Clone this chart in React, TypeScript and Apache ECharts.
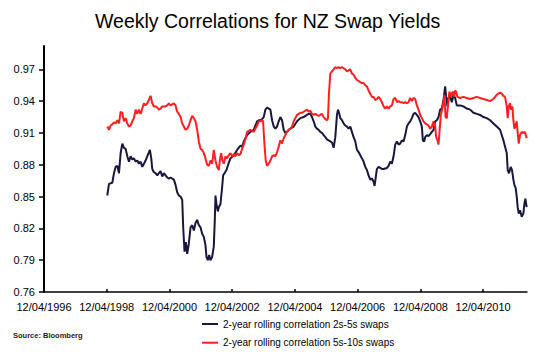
import React, { useEffect, useRef } from "react";
import * as echarts from "echarts";

// x = decimal year, y = correlation
const tickYears = [1996.279, 1998.277, 2000.279, 2002.277, 2004.279, 2006.277, 2008.279, 2010.277];
const tickLabels = ["12/04/1996", "12/04/1998", "12/04/2000", "12/04/2002", "12/04/2004", "12/04/2006", "12/04/2008", "12/04/2010"];
const yTicks = [0.76, 0.79, 0.82, 0.85, 0.88, 0.91, 0.94, 0.97];

const seriesNames = ["2-year rolling correlation 2s-5s swaps", "2-year rolling correlation 5s-10s swaps"];

const corr2s5s: [number, number][] = [
  [1998.297, 0.851], [1998.350, 0.862], [1998.456, 0.863], [1998.509, 0.872], [1998.562, 0.878], [1998.616, 0.879],
  [1998.669, 0.872], [1998.722, 0.891], [1998.775, 0.900], [1998.828, 0.896], [1998.881, 0.895], [1998.934, 0.888],
  [1998.987, 0.883], [1999.040, 0.888], [1999.093, 0.885], [1999.146, 0.886], [1999.199, 0.883], [1999.252, 0.884],
  [1999.305, 0.881], [1999.358, 0.883], [1999.411, 0.878], [1999.464, 0.881], [1999.517, 0.884], [1999.570, 0.888],
  [1999.655, 0.894], [1999.698, 0.886], [1999.730, 0.876], [1999.783, 0.873], [1999.836, 0.872], [1999.889, 0.870],
  [1999.942, 0.872], [1999.995, 0.874], [2000.048, 0.869], [2000.101, 0.872], [2000.154, 0.870], [2000.207, 0.868],
  [2000.260, 0.867], [2000.313, 0.868], [2000.366, 0.867], [2000.419, 0.866], [2000.472, 0.861], [2000.525, 0.854],
  [2000.578, 0.851], [2000.631, 0.850], [2000.685, 0.847], [2000.716, 0.821], [2000.759, 0.798], [2000.801, 0.807],
  [2000.844, 0.796], [2000.897, 0.806], [2000.950, 0.821], [2001.003, 0.823], [2001.056, 0.818], [2001.109, 0.825],
  [2001.162, 0.828], [2001.215, 0.823], [2001.268, 0.821], [2001.321, 0.815], [2001.374, 0.812], [2001.427, 0.804],
  [2001.459, 0.793], [2001.501, 0.790], [2001.544, 0.795], [2001.586, 0.790], [2001.639, 0.793], [2001.692, 0.803],
  [2001.724, 0.828], [2001.745, 0.851], [2001.777, 0.843], [2001.820, 0.836], [2001.852, 0.840], [2001.905, 0.843],
  [2001.958, 0.859], [2001.990, 0.870], [2002.032, 0.872], [2002.096, 0.875], [2002.159, 0.881], [2002.223, 0.886],
  [2002.329, 0.889], [2002.435, 0.894], [2002.541, 0.898], [2002.594, 0.897], [2002.647, 0.902], [2002.753, 0.908],
  [2002.859, 0.911], [2002.965, 0.913], [2003.072, 0.921], [2003.125, 0.922], [2003.178, 0.922], [2003.231, 0.923],
  [2003.284, 0.925], [2003.337, 0.932], [2003.390, 0.934], [2003.443, 0.933], [2003.496, 0.932], [2003.549, 0.922],
  [2003.602, 0.916], [2003.655, 0.914], [2003.708, 0.916], [2003.761, 0.921], [2003.814, 0.925], [2003.867, 0.922],
  [2003.920, 0.913], [2003.973, 0.910], [2004.026, 0.911], [2004.079, 0.913], [2004.133, 0.914], [2004.239, 0.916],
  [2004.345, 0.921], [2004.451, 0.924], [2004.557, 0.925], [2004.663, 0.927], [2004.716, 0.928], [2004.769, 0.928],
  [2004.822, 0.925], [2004.875, 0.921], [2004.928, 0.916], [2004.981, 0.914], [2005.034, 0.913], [2005.087, 0.911],
  [2005.141, 0.910], [2005.194, 0.908], [2005.247, 0.906], [2005.300, 0.904], [2005.353, 0.903], [2005.406, 0.902],
  [2005.459, 0.901], [2005.512, 0.896], [2005.565, 0.906], [2005.618, 0.927], [2005.650, 0.932], [2005.692, 0.928],
  [2005.724, 0.924], [2005.777, 0.922], [2005.830, 0.919], [2005.883, 0.917], [2005.936, 0.916], [2005.989, 0.914],
  [2006.042, 0.916], [2006.095, 0.911], [2006.148, 0.906], [2006.202, 0.902], [2006.255, 0.894], [2006.308, 0.892],
  [2006.361, 0.889], [2006.414, 0.886], [2006.467, 0.883], [2006.520, 0.878], [2006.573, 0.875], [2006.626, 0.870],
  [2006.679, 0.866], [2006.732, 0.867], [2006.785, 0.864], [2006.817, 0.860], [2006.859, 0.869], [2006.891, 0.876],
  [2006.944, 0.878], [2006.998, 0.877], [2007.050, 0.876], [2007.104, 0.876], [2007.210, 0.877], [2007.263, 0.879],
  [2007.316, 0.883], [2007.369, 0.881], [2007.422, 0.888], [2007.475, 0.899], [2007.529, 0.902], [2007.582, 0.899],
  [2007.635, 0.900], [2007.688, 0.903], [2007.741, 0.902], [2007.794, 0.908], [2007.847, 0.916], [2007.900, 0.919],
  [2007.953, 0.921], [2008.006, 0.924], [2008.059, 0.928], [2008.112, 0.929], [2008.165, 0.927], [2008.218, 0.925],
  [2008.271, 0.921], [2008.324, 0.916], [2008.356, 0.903], [2008.399, 0.902], [2008.430, 0.906], [2008.483, 0.908],
  [2008.536, 0.907], [2008.590, 0.909], [2008.643, 0.911], [2008.696, 0.913], [2008.749, 0.921], [2008.802, 0.922],
  [2008.855, 0.925], [2008.908, 0.932], [2008.961, 0.933], [2009.014, 0.941], [2009.067, 0.954], [2009.099, 0.944],
  [2009.141, 0.935], [2009.173, 0.943], [2009.226, 0.944], [2009.279, 0.939], [2009.332, 0.946], [2009.385, 0.943],
  [2009.438, 0.936], [2009.544, 0.936], [2009.651, 0.935], [2009.757, 0.933], [2009.863, 0.932], [2009.969, 0.929],
  [2010.075, 0.928], [2010.181, 0.927], [2010.287, 0.925], [2010.393, 0.924], [2010.499, 0.922], [2010.605, 0.919],
  [2010.712, 0.916], [2010.818, 0.913], [2010.871, 0.908], [2010.924, 0.903], [2010.977, 0.897], [2011.030, 0.891],
  [2011.061, 0.875], [2011.104, 0.872], [2011.157, 0.878], [2011.199, 0.875], [2011.242, 0.866], [2011.274, 0.861],
  [2011.316, 0.858], [2011.348, 0.850], [2011.380, 0.840], [2011.412, 0.834], [2011.454, 0.837], [2011.507, 0.831],
  [2011.560, 0.834], [2011.592, 0.843], [2011.624, 0.848], [2011.666, 0.840],
];

const corr5s10s: [number, number][] = [
  [1998.297, 0.916], [1998.350, 0.913], [1998.403, 0.917], [1998.456, 0.918], [1998.509, 0.920], [1998.562, 0.919],
  [1998.616, 0.922], [1998.669, 0.919], [1998.722, 0.930], [1998.775, 0.929], [1998.828, 0.921], [1998.881, 0.924],
  [1998.934, 0.919], [1998.987, 0.916], [1999.040, 0.917], [1999.093, 0.921], [1999.146, 0.924], [1999.199, 0.932],
  [1999.252, 0.928], [1999.305, 0.932], [1999.358, 0.928], [1999.411, 0.933], [1999.464, 0.938], [1999.517, 0.936],
  [1999.570, 0.938], [1999.623, 0.941], [1999.676, 0.945], [1999.730, 0.938], [1999.783, 0.935], [1999.836, 0.935],
  [1999.889, 0.934], [1999.942, 0.932], [1999.995, 0.933], [2000.048, 0.935], [2000.101, 0.935], [2000.154, 0.935],
  [2000.207, 0.936], [2000.260, 0.938], [2000.313, 0.936], [2000.366, 0.937], [2000.419, 0.938], [2000.472, 0.936],
  [2000.525, 0.930], [2000.578, 0.928], [2000.631, 0.925], [2000.685, 0.919], [2000.738, 0.916], [2000.791, 0.913],
  [2000.844, 0.914], [2000.897, 0.917], [2000.950, 0.922], [2001.003, 0.926], [2001.056, 0.924], [2001.109, 0.921],
  [2001.162, 0.913], [2001.215, 0.902], [2001.268, 0.895], [2001.321, 0.894], [2001.374, 0.891], [2001.427, 0.886],
  [2001.480, 0.880], [2001.533, 0.879], [2001.586, 0.884], [2001.639, 0.881], [2001.692, 0.894], [2001.745, 0.884],
  [2001.798, 0.878], [2001.852, 0.875], [2001.883, 0.884], [2001.926, 0.891], [2001.968, 0.884], [2002.011, 0.881],
  [2002.064, 0.888], [2002.117, 0.886], [2002.170, 0.889], [2002.223, 0.891], [2002.276, 0.888], [2002.329, 0.890],
  [2002.382, 0.888], [2002.435, 0.891], [2002.488, 0.889], [2002.541, 0.890], [2002.594, 0.895], [2002.647, 0.899],
  [2002.700, 0.904], [2002.753, 0.911], [2002.859, 0.913], [2002.965, 0.911], [2003.018, 0.914], [2003.072, 0.917],
  [2003.125, 0.921], [2003.178, 0.921], [2003.231, 0.922], [2003.263, 0.921], [2003.305, 0.900], [2003.347, 0.884],
  [2003.390, 0.879], [2003.443, 0.881], [2003.496, 0.884], [2003.549, 0.888], [2003.602, 0.889], [2003.655, 0.888],
  [2003.708, 0.892], [2003.761, 0.897], [2003.814, 0.903], [2003.867, 0.900], [2003.920, 0.905], [2003.973, 0.908],
  [2004.026, 0.911], [2004.079, 0.913], [2004.133, 0.914], [2004.186, 0.916], [2004.239, 0.921], [2004.292, 0.924],
  [2004.345, 0.927], [2004.398, 0.928], [2004.451, 0.929], [2004.504, 0.929], [2004.557, 0.930], [2004.610, 0.931],
  [2004.663, 0.932], [2004.716, 0.930], [2004.769, 0.931], [2004.822, 0.928], [2004.875, 0.927], [2004.928, 0.928],
  [2004.981, 0.927], [2005.034, 0.926], [2005.087, 0.927], [2005.141, 0.928], [2005.194, 0.925], [2005.247, 0.923],
  [2005.300, 0.922], [2005.331, 0.924], [2005.363, 0.947], [2005.406, 0.966], [2005.459, 0.968], [2005.512, 0.970],
  [2005.565, 0.972], [2005.618, 0.971], [2005.671, 0.972], [2005.724, 0.971], [2005.777, 0.972], [2005.830, 0.971],
  [2005.883, 0.970], [2005.936, 0.968], [2005.989, 0.969], [2006.042, 0.970], [2006.095, 0.966], [2006.148, 0.965],
  [2006.202, 0.962], [2006.255, 0.960], [2006.308, 0.959], [2006.361, 0.958], [2006.414, 0.957], [2006.467, 0.957],
  [2006.520, 0.955], [2006.573, 0.954], [2006.626, 0.950], [2006.679, 0.947], [2006.732, 0.944], [2006.785, 0.944],
  [2006.838, 0.941], [2006.891, 0.942], [2006.944, 0.944], [2006.998, 0.942], [2007.051, 0.939], [2007.104, 0.935],
  [2007.157, 0.933], [2007.210, 0.935], [2007.263, 0.933], [2007.316, 0.935], [2007.369, 0.936], [2007.422, 0.942],
  [2007.475, 0.943], [2007.529, 0.939], [2007.582, 0.940], [2007.635, 0.939], [2007.688, 0.939], [2007.741, 0.938],
  [2007.794, 0.939], [2007.847, 0.938], [2007.900, 0.939], [2007.953, 0.943], [2008.006, 0.940], [2008.059, 0.943],
  [2008.112, 0.942], [2008.165, 0.936], [2008.218, 0.932], [2008.271, 0.927], [2008.324, 0.924], [2008.377, 0.921],
  [2008.430, 0.919], [2008.483, 0.918], [2008.536, 0.917], [2008.590, 0.914], [2008.643, 0.916], [2008.696, 0.921],
  [2008.749, 0.916], [2008.780, 0.906], [2008.823, 0.903], [2008.855, 0.899], [2008.887, 0.911], [2008.929, 0.927],
  [2008.971, 0.932], [2009.014, 0.939], [2009.046, 0.946], [2009.078, 0.925], [2009.120, 0.924], [2009.173, 0.941],
  [2009.205, 0.949], [2009.247, 0.944], [2009.279, 0.947], [2009.311, 0.949], [2009.354, 0.944], [2009.385, 0.950],
  [2009.417, 0.949], [2009.459, 0.944], [2009.544, 0.943], [2009.651, 0.944], [2009.757, 0.943], [2009.863, 0.942],
  [2009.969, 0.943], [2010.075, 0.944], [2010.181, 0.943], [2010.287, 0.942], [2010.393, 0.941], [2010.499, 0.940],
  [2010.605, 0.942], [2010.658, 0.944], [2010.712, 0.946], [2010.765, 0.947], [2010.818, 0.948], [2010.871, 0.947],
  [2010.924, 0.945], [2010.977, 0.944], [2011.030, 0.935], [2011.061, 0.924], [2011.093, 0.935], [2011.136, 0.938],
  [2011.168, 0.932], [2011.210, 0.935], [2011.242, 0.922], [2011.274, 0.914], [2011.306, 0.916], [2011.348, 0.921],
  [2011.380, 0.910], [2011.412, 0.900], [2011.454, 0.908], [2011.507, 0.911], [2011.560, 0.910], [2011.613, 0.911],
  [2011.666, 0.905],
];

const FONT = "'Liberation Sans', Arial, sans-serif";

export default function App() {
  const ref = useRef<HTMLDivElement>(null);
  useEffect(() => {
    if (!ref.current) return;
    const chart = echarts.init(ref.current, undefined, { renderer: "svg" });
    chart.setOption({
      animation: false,
      backgroundColor: "#ffffff",
      textStyle: { fontFamily: FONT },
      title: {
        text: "Weekly Correlations for NZ Swap Yields",
        left: 95,
        top: 11,
        padding: 0,
        textStyle: { fontFamily: FONT, fontSize: 19.5, fontWeight: "normal", color: "#000" },
      },
      grid: { left: 44, right: 23, top: 46, bottom: 60, containLabel: false },
      xAxis: {
        type: "value",
        min: 1996.279,
        max: 2011.676,
        axisLine: { show: true, lineStyle: { color: "#000", width: 1.5 } },
        axisTick: { show: true, inside: true, length: 3, customValues: tickYears, lineStyle: { color: "#000", width: 1.5 } },
        axisLabel: {
          customValues: tickYears,
          margin: 9,
          fontFamily: FONT,
          fontSize: 11,
          color: "#000",
          formatter: (v: number) => {
            let best = 0;
            tickYears.forEach((t, i) => {
              if (Math.abs(t - v) < Math.abs(tickYears[best] - v)) best = i;
            });
            return tickLabels[best];
          },
        },
        splitLine: { show: false },
      },
      yAxis: {
        type: "value",
        min: 0.76,
        max: 0.992,
        axisLine: { show: true, lineStyle: { color: "#000", width: 2 } },
        axisTick: { show: true, inside: false, length: 5, customValues: yTicks, lineStyle: { color: "#000", width: 1.5 } },
        axisLabel: {
          customValues: yTicks,
          margin: 9,
          fontFamily: FONT,
          fontSize: 11,
          color: "#000",
          formatter: (v: number) => v.toFixed(2),
        },
        splitLine: { show: false },
      },
      legend: {
        orient: "vertical",
        left: 202,
        top: 318,
        padding: 0,
        itemGap: 6.7,
        itemWidth: 16,
        itemHeight: 2,
        icon: "rect",
        textStyle: { fontFamily: FONT, fontSize: 10, color: "#000", lineHeight: 12 },
        data: seriesNames,
      },
      graphic: [
        {
          type: "text",
          left: 13,
          top: 331,
          style: { text: "Source: Bloomberg", fontFamily: FONT, fontSize: 7.5, fontWeight: "bold", fill: "#222" },
        },
      ],
      series: [
        {
          name: seriesNames[0],
          type: "line",
          data: corr2s5s,
          showSymbol: false,
          lineStyle: { color: "#18183f", width: 2 },
          itemStyle: { color: "#18183f" },
        },
        {
          name: seriesNames[1],
          type: "line",
          data: corr5s10s,
          showSymbol: false,
          lineStyle: { color: "#ff1f1f", width: 2 },
          itemStyle: { color: "#ff1f1f" },
        },
      ],
    });
    return () => chart.dispose();
  }, []);
  return <div ref={ref} style={{ width: 550, height: 352, position: "absolute", left: 0, top: 0 }} />;
}
